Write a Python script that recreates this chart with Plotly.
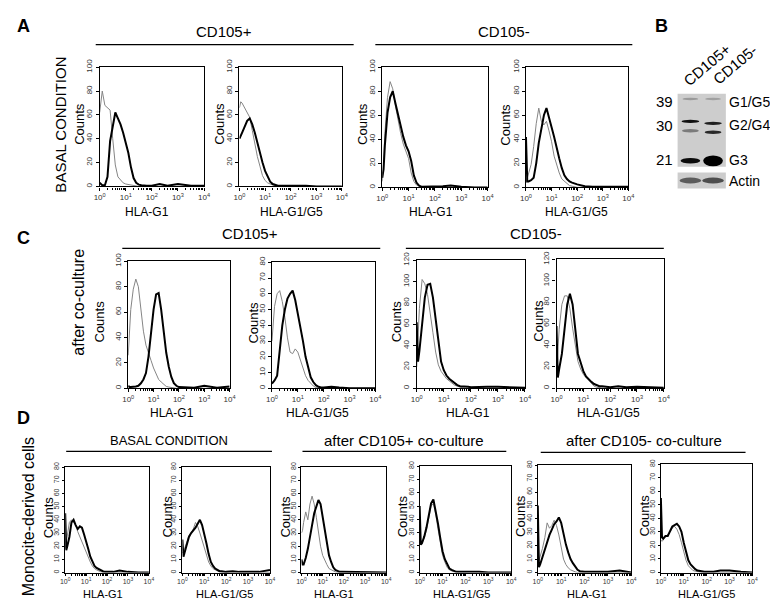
import plotly.graph_objects as go

W, H = 778, 600
FONT = "Liberation Sans, Arial, sans-serif"

# ---------------- data ----------------
# log10 of fluorescence channel (x axis is log, 10^0 .. 10^4)
LOGX = [0.0, 0.05, 0.1, 0.2, 0.3, 0.4, 0.5, 0.6, 0.7, 0.8, 0.9, 1.0, 1.1, 1.2, 1.3,
        1.4, 1.5, 1.6, 1.7, 1.8, 1.9, 2.0, 2.3, 2.6, 3.0, 3.5, 4.0]

# Panel A - basal condition (gray = isotype control, black = stained)
A1_GRAY = [62, 70, 80, 68, 66, 64, 40, 18, 8, 5, 3, 2, 1.5, 1, 0.5, 0, 0, 0, 0, 0, 0, 0, 0, 0, 0, 0, 0]
A1_BLACK = [3, 2, 1, 1, 8, 38, 50, 62, 57, 52, 45, 37, 28, 16, 7, 3, 1.5, 1, 0.5, 0.5, 0.5, 0.5, 2, 0.5, 2, 0.5, 0.5]
A2_GRAY = [66, 71, 70, 66, 63, 58, 47, 35, 25, 17, 9, 5, 3, 2, 1, 0.5, 0, 0, 0, 0, 0, 0, 0, 0, 0, 0, 0]
A2_BLACK = [40, 42, 45, 50, 55, 57, 52, 45, 36, 28, 20, 13, 8, 4, 2, 1, 0.5, 0.5, 0.5, 0.5, 0.5, 0.5, 1, 0.5, 0, 0, 0]
A3_GRAY = [5, 20, 45, 75, 88, 82, 68, 55, 45, 36, 30, 24, 12, 5, 2, 1, 0.5, 0, 0, 0, 0, 0, 0, 0, 0, 0, 0]
A3_BLACK = [8, 15, 35, 62, 75, 80, 70, 60, 50, 42, 35, 30, 22, 10, 4, 1.5, 0.5, 0.5, 0.5, 0.5, 0.5, 0.5, 1, 1.5, 0.5, 0, 0]
A4_GRAY = [4, 8, 12, 19, 34, 53, 66, 55, 52, 55, 47, 38, 26, 18, 12, 7, 5, 3, 1.5, 1, 0.5, 0, 0, 0, 0, 0, 0]
A4_BLACK = [42, 5, 5, 6, 8, 20, 37, 50, 60, 66, 57, 50, 42, 32, 24, 16, 10, 7, 5, 4, 3, 2.5, 1, 0.5, 0.5, 0.5, 0.5]

# Panel C - after co-culture
C1_GRAY = [26, 45, 62, 78, 86, 80, 62, 45, 34, 27, 22, 16, 11, 7, 5, 3, 1.5, 1, 0.5, 0, 0, 0, 0, 0, 0, 0, 0]
C1_BLACK = [2, 1, 1, 1, 1.5, 2, 4, 7, 12, 25, 43, 62, 74, 75, 62, 46, 28, 17, 9, 4, 2, 1, 1, 0.5, 2, 0.5, 1.5]
C2_GRAY = [30, 40, 52, 60, 62, 55, 45, 32, 23, 22, 25, 23, 18, 12, 8, 5, 3, 1.5, 0.5, 0, 0, 0, 0, 0, 0, 0, 0]
C2_BLACK = [3, 4, 5, 8, 25, 40, 50, 57, 60, 62, 56, 48, 39, 30, 20, 13, 7, 4, 2, 1, 0.5, 0.5, 1, 0.5, 0, 0, 0]
C3_GRAY = [20, 45, 75, 102, 98, 88, 72, 52, 34, 22, 16, 12, 9, 7, 5, 3, 2, 1, 0.5, 0, 0, 0, 0, 0, 0, 0, 0]
C3_BLACK = [62, 25, 35, 60, 85, 97, 98, 85, 65, 40, 25, 17, 12, 9, 7, 5, 3, 2, 2, 1.5, 1.5, 1, 1.5, 1.5, 1.5, 1, 0.5]
C4_GRAY = [15, 35, 55, 78, 86, 86, 74, 56, 38, 25, 18, 13, 10, 7, 4, 2, 1, 0.5, 0, 0, 0, 0, 0, 0, 0, 0, 0]
C4_BLACK = [58, 10, 18, 32, 55, 78, 88, 78, 55, 32, 24, 16, 11, 8, 6, 4, 3, 2, 2, 1.5, 1.5, 1, 2, 1, 1.5, 1, 0.5]

# Panel D - monocyte-derived cells
D1_GRAY = [18, 24, 30, 38, 40, 38, 36, 31, 27, 23, 19, 15, 11, 8, 5, 3, 2, 1, 0.5, 0, 0, 0, 0, 0, 0, 0, 0]
D1_BLACK = [45, 17, 20, 27, 38, 40, 36, 33, 35, 34, 29, 24, 18, 12, 8, 5, 3.5, 2.5, 1.5, 1, 0.5, 0.5, 0.5, 1.5, 0.5, 0, 0]
D2_GRAY = [15, 16, 18, 24, 28, 30, 33, 38, 35, 30, 24, 18, 12, 8, 5, 3, 2, 1, 0.5, 0, 0, 0, 0, 0, 0, 0, 0]
D2_BLACK = [25, 12, 15, 22, 27, 30, 32, 34, 37, 40, 36, 30, 22, 14, 8, 5, 3, 2, 1, 1, 0.5, 0.5, 1, 0.5, 0.5, 0.5, 2]
D3_GRAY = [30, 32, 38, 46, 40, 52, 58, 52, 42, 30, 20, 13, 9, 6, 3, 2, 1, 0.5, 0, 0, 0, 0, 0, 0, 0, 0, 0]
D3_BLACK = [10, 6, 6, 11, 18, 26, 36, 45, 50, 55, 52, 43, 32, 22, 13, 8, 4, 2, 1, 0.5, 0.5, 0.5, 0.5, 0, 0, 0, 0]
D4_GRAY = [21, 21, 22, 26, 32, 41, 50, 52, 44, 33, 22, 13, 8, 4, 2, 1, 0.5, 0, 0, 0, 0, 0, 0, 0, 0, 0, 0]
D4_BLACK = [50, 21, 22, 27, 34, 43, 52, 55, 47, 37, 26, 16, 10, 6, 3, 2, 1, 0.5, 0.5, 0.5, 0.5, 1, 0.5, 0.5, 0, 0, 0]
D5_GRAY = [6, 9, 12, 18, 26, 37, 33, 35, 39, 35, 28, 19, 10, 6, 3.5, 2, 1, 0.5, 0, 0, 0, 0, 0, 0, 0, 0, 0]
D5_BLACK = [50, 4, 6, 12, 17, 23, 28, 32, 36, 38, 41, 37, 28, 21, 15, 10, 7, 4, 2, 1, 0.5, 0.5, 0.5, 0.5, 0.5, 1.5, 0]
D6_GRAY = [24, 23, 24, 26, 28, 30, 33, 34, 32, 28, 22, 15, 9, 5, 3, 1.5, 1, 0.5, 0, 0, 0, 0, 0, 0, 0, 0, 0]
D6_BLACK = [55, 26, 25, 27, 27, 31, 34, 35, 36, 34, 30, 22, 15, 9, 6, 4, 2.5, 1.5, 1, 0.5, 0.5, 0.5, 0.5, 1.5, 1.5, 0.5, 0]

X_TICKVALS = [1, 10, 100, 1000, 10000]
X_TICKTEXT = ["10<sup>0</sup>", "10<sup>1</sup>", "10<sup>2</sup>", "10<sup>3</sup>", "10<sup>4</sup>"]
X_MINOR = [m * d for d in (1, 10, 100, 1000) for m in range(2, 10)]

G1 = "HLA-G1"
G15 = "HLA-G1/G5"

# Western blot (panel B)
BLOT_LANES = ["CD105+", "CD105-"]
BLOT_KDA = ["39", "30", "21"]
BLOT_BANDS = ["G1/G5", "G2/G4", "G3", "Actin"]
# band darkness per lane (0 = background, 1 = black)
BAND_G1G5 = [0.25, 0.22]
BAND_G2G4_UP = [0.92, 0.85]
BAND_G2G4_LO = [0.40, 0.80]
BAND_G3 = [0.95, 1.0]
BAND_ACTIN = [0.55, 0.62]

# ---------------- layout helpers ----------------
def px(x):
    return x / W


def py(y):
    return 1 - y / H


# panel: (x title, y max, y dtick, box l, r, t, b, gray, black, counts x, title x, title y, tick font)
PANELS = [
    (G1, 100, 20, 87, 193, 52, 173, A1_GRAY, A1_BLACK, 67, 135, 199, 8),
    (G15, 100, 20, 229, 333, 52, 173, A2_GRAY, A2_BLACK, 209, 282, 199, 8),
    (G1, 100, 20, 374, 481, 52, 174, A3_GRAY, A3_BLACK, 354, 424, 199, 8),
    (G15, 100, 20, 520, 624, 52, 174, A4_GRAY, A4_BLACK, 499, 571, 199, 8),
    (G1, 100, 20, 116, 219, 249, 378, C1_GRAY, C1_BLACK, 87, 160, 403, 8),
    (G15, 80, 10, 262, 367, 250, 378, C2_GRAY, C2_BLACK, 243, 308, 403, 8),
    (G1, 120, 20, 409, 519, 248, 378, C3_GRAY, C3_BLACK, 388, 461, 403, 8),
    (G15, 120, 20, 551, 660, 247, 378, C4_GRAY, C4_BLACK, 533, 604, 403, 8),
    (G1, 80, 10, 52, 137, 458, 565, D1_GRAY, D1_BLACK, 35, 90, 587, 7),
    (G15, 80, 10, 171, 260, 458, 565, D2_GRAY, D2_BLACK, 156, 214, 587, 7),
    (G1, 80, 10, 292, 378, 458, 565, D3_GRAY, D3_BLACK, 276, 325, 587, 7),
    (G15, 80, 10, 412, 505, 457, 565, D4_GRAY, D4_BLACK, 394, 455, 587, 7),
    (G1, 80, 10, 532, 627, 456, 565, D5_GRAY, D5_BLACK, 515, 582, 587, 7),
    (G15, 80, 10, 657, 750, 455, 565, D6_GRAY, D6_BLACK, 640, 703, 587, 7),
]

X = [10 ** v for v in LOGX]

fig = go.Figure()
layout = dict(
    width=W, height=H, margin=dict(l=0, r=0, t=0, b=0),
    paper_bgcolor="white", plot_bgcolor="white", showlegend=False,
    font=dict(family=FONT, color="black"),
)
annotations = []
shapes = []

for i, (xt, ymax, ydt, l, r, t, b, gray, black, cx, tx, ty, tf) in enumerate(PANELS, start=1):
    sx = "" if i == 1 else str(i)
    fig.add_trace(go.Scatter(x=X, y=gray, mode="lines", xaxis="x" + sx, yaxis="y" + sx,
                             line=dict(color="#858585", width=1), hoverinfo="skip"))
    fig.add_trace(go.Scatter(x=X, y=black, mode="lines", xaxis="x" + sx, yaxis="y" + sx,
                             line=dict(color="black", width=2), hoverinfo="skip"))
    layout["xaxis" + sx] = dict(
        type="log", range=[0, 4], domain=[px(l), px(r)], anchor="y" + sx,
        tickmode="array", tickvals=X_TICKVALS, ticktext=X_TICKTEXT,
        ticks="outside", ticklen=3 if tf >= 8 else 2, tickwidth=1, tickcolor="black",
        minor=dict(tickmode="array", tickvals=X_MINOR, ticks="outside", ticklen=2,
                   tickcolor="black", showgrid=False),
        showline=True, mirror=True, linecolor="black", linewidth=1.2,
        showgrid=False, zeroline=False, tickfont=dict(size=tf, color="#333"),
        fixedrange=True,
    )
    layout["yaxis" + sx] = dict(
        range=[0, ymax], domain=[py(b), py(t)], anchor="x" + sx,
        tickmode="linear", tick0=0, dtick=ydt, tickangle=-90,
        ticks="outside", ticklen=2 if tf < 8 else 3, tickwidth=1, tickcolor="black",
        showline=True, mirror=True, linecolor="black", linewidth=1.2,
        showgrid=False, zeroline=False, tickfont=dict(size=tf, color="#333"),
        fixedrange=True,
    )
    # "Counts" y label
    annotations.append(dict(text="Counts", x=px(cx), y=py((t + b) / 2 - 3), xref="paper", yref="paper",
                            showarrow=False, textangle=-90, font=dict(size=13),
                            xanchor="center", yanchor="middle"))
    # x axis title
    annotations.append(dict(text=xt, x=px(tx), y=py(ty), xref="paper", yref="paper",
                            showarrow=False, font=dict(size=12 if tf >= 8 else 11),
                            xanchor="center", yanchor="middle", borderpad=0))


def label(text, x, y, size, angle=0, bold=False, xanchor="center"):
    annotations.append(dict(text=("<b>%s</b>" % text) if bold else text, x=px(x), y=py(y),
                            xref="paper", yref="paper", showarrow=False, textangle=angle,
                            font=dict(size=size), xanchor=xanchor, yanchor="middle"))


def hline(x0, x1, y, w=1.2):
    shapes.append(dict(type="line", xref="paper", yref="paper", x0=px(x0), x1=px(x1),
                       y0=py(y), y1=py(y), line=dict(color="black", width=w)))


# panel letters
label("A", 10, 10, 18, bold=True)
label("B", 658, 10, 18, bold=True)
label("C", 10, 225, 18, bold=True)
label("D", 10, 408, 18, bold=True)

# group headers
label("CD105+", 213, 16, 15)
hline(83, 345, 29)
label("CD105-", 498, 16, 15)
hline(367, 628, 29)
label("CD105+", 240, 221, 15)
hline(110, 372, 236)
label("CD105-", 530, 221, 15)
hline(398, 660, 236)
label("BASAL CONDITION", 157, 431, 13)
hline(53, 262, 442)
label("after CD105+ co-culture", 396, 431, 15)
hline(293, 500, 442)
label("after CD105- co-culture", 640, 431, 15)
hline(535, 743, 443)

# row labels
label("BASAL CONDITION", 47, 110, 15, angle=-90)
label("after co-culture", 66, 290, 16, angle=-90)
label("Monocite-derived cells", 15, 508, 16, angle=-90)


# ---------------- western blot ----------------
def shade(d):
    v = int(round(205 * (1 - d)))
    return "rgb(%d,%d,%d)" % (v, v, v)


def rect(x0, y0, x1, y1, color, kind="rect"):
    shapes.append(dict(type=kind, xref="paper", yref="paper", x0=px(x0), x1=px(x1),
                       y0=py(y1), y1=py(y0), fillcolor=color, line=dict(width=0), layer="above"))


rect(674, 79, 723, 153, "rgb(205,205,205)")
rect(674, 159, 723, 175, "rgb(205,205,205)")
lane_x = [687, 710]
for k, cxl in enumerate(lane_x):
    rect(cxl - 8, 83, cxl + 8, 85.5, shade(BAND_G1G5[k]), "circle")
    yu = 107 if k == 0 else 109
    rect(cxl - 9, yu - 1.6, cxl + 9, yu + 1.6, shade(BAND_G2G4_UP[k]), "circle")
    yl = 116.5 if k == 0 else 118
    rect(cxl - 8.5, yl - 1.7, cxl + 8.5, yl + 1.7, shade(BAND_G2G4_LO[k]), "circle")
    h3 = 2.8 if k == 0 else 5.5
    rect(cxl - 10, 147 - h3, cxl + 10, 147 + h3, shade(BAND_G3[k]), "circle")
    rect(cxl - 11, 164, cxl + 11, 170, shade(BAND_ACTIN[k]), "circle")

for k, lane in enumerate(BLOT_LANES):
    label(lane, 704 + 28 * k, 49, 15, angle=-40)
for kda, yk in zip(BLOT_KDA, [87, 111, 146]):
    label(kda, 671, yk, 15, xanchor="right")
for band, yb in zip(BLOT_BANDS, [87, 111, 146, 168]):
    label(band, 724, yb, 14, xanchor="left")

layout["annotations"] = annotations
layout["shapes"] = shapes
fig.update_layout(**layout)
fig.write_html("out.html")
